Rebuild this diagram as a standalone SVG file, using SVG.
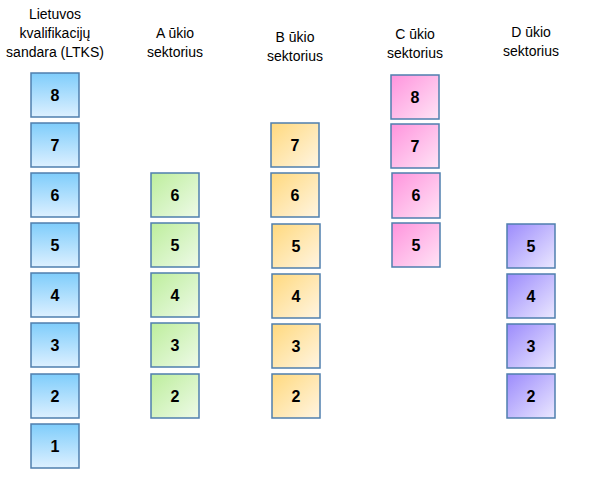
<svg xmlns="http://www.w3.org/2000/svg" width="602" height="478" viewBox="0 0 602 478">
<defs>
<linearGradient id="gBlue" x1="0" y1="0" x2="0" y2="1"><stop offset="0" stop-color="#7FCDFB"/><stop offset="1" stop-color="#DDF0FF"/></linearGradient>
<linearGradient id="gGreen" x1="0" y1="0" x2="1" y2="1"><stop offset="0" stop-color="#BDEE9C"/><stop offset="1" stop-color="#EEFAE8"/></linearGradient>
<linearGradient id="gOrange" x1="0" y1="0" x2="1" y2="1"><stop offset="0" stop-color="#FFD97E"/><stop offset="1" stop-color="#FFF5E2"/></linearGradient>
<linearGradient id="gPink" x1="0" y1="0" x2="1" y2="1"><stop offset="0" stop-color="#FF94DD"/><stop offset="1" stop-color="#FFE4F6"/></linearGradient>
<linearGradient id="gPurple" x1="0" y1="0" x2="1" y2="1"><stop offset="0" stop-color="#9C8BFC"/><stop offset="1" stop-color="#EBE8FF"/></linearGradient>
</defs>
<style>
.box rect{stroke:#4F7FAE;stroke-width:1.5}
.b rect{fill:url(#gBlue)}
.g rect{fill:url(#gGreen)}
.o rect{fill:url(#gOrange)}
.p rect{fill:url(#gPink)}
.v rect{fill:url(#gPurple)}
.box text{font-family:"Liberation Sans",Arial,sans-serif;font-weight:bold;font-size:16px;fill:#000;text-anchor:middle}
.hd{font-family:"Liberation Sans",Arial,sans-serif;font-size:14px;fill:#000;text-anchor:middle}
</style>
<g id="headers">
<text class="hd" x="55" y="19">Lietuvos</text>
<text class="hd" x="55" y="38">kvalifikacijų</text>
<text class="hd" x="55" y="57">sandara (LTKS)</text>
<text class="hd" x="175" y="38">A ūkio</text>
<text class="hd" x="175" y="57">sektorius</text>
<text class="hd" x="295" y="42">B ūkio</text>
<text class="hd" x="295" y="61">sektorius</text>
<text class="hd" x="415" y="39">C ūkio</text>
<text class="hd" x="415" y="58">sektorius</text>
<text class="hd" x="531" y="37">D ūkio</text>
<text class="hd" x="531" y="56">sektorius</text>
</g>
<g id="ltks-8" class="box b"><rect x="31" y="73" width="48" height="44"/><text x="55" y="101">8</text></g>
<g id="ltks-7" class="box b"><rect x="31" y="123" width="48" height="44"/><text x="55" y="151">7</text></g>
<g id="ltks-6" class="box b"><rect x="31" y="173" width="48" height="44"/><text x="55" y="201">6</text></g>
<g id="ltks-5" class="box b"><rect x="31" y="223" width="48" height="44"/><text x="55" y="251">5</text></g>
<g id="ltks-4" class="box b"><rect x="31" y="273" width="48" height="44"/><text x="55" y="301">4</text></g>
<g id="ltks-3" class="box b"><rect x="31" y="323" width="48" height="44"/><text x="55" y="351">3</text></g>
<g id="ltks-2" class="box b"><rect x="31" y="374" width="48" height="44"/><text x="55" y="402">2</text></g>
<g id="ltks-1" class="box b"><rect x="31" y="424" width="48" height="44"/><text x="55" y="452">1</text></g>

<g id="a-6" class="box g"><rect x="151" y="173" width="48" height="44"/><text x="175" y="201">6</text></g>
<g id="a-5" class="box g"><rect x="151" y="223" width="48" height="44"/><text x="175" y="251">5</text></g>
<g id="a-4" class="box g"><rect x="151" y="273" width="48" height="44"/><text x="175" y="301">4</text></g>
<g id="a-3" class="box g"><rect x="151" y="323" width="48" height="44"/><text x="175" y="351">3</text></g>
<g id="a-2" class="box g"><rect x="151" y="374" width="48" height="44"/><text x="175" y="402">2</text></g>

<g id="b-7" class="box o"><rect x="271" y="123" width="48" height="44"/><text x="295" y="151">7</text></g>
<g id="b-6" class="box o"><rect x="271" y="173" width="48" height="44"/><text x="295" y="201">6</text></g>
<g id="b-5" class="box o"><rect x="272" y="224" width="48" height="44"/><text x="296" y="252">5</text></g>
<g id="b-4" class="box o"><rect x="272" y="274" width="48" height="44"/><text x="296" y="302">4</text></g>
<g id="b-3" class="box o"><rect x="272" y="324" width="48" height="44"/><text x="296" y="352">3</text></g>
<g id="b-2" class="box o"><rect x="272" y="374" width="48" height="44"/><text x="296" y="402">2</text></g>

<g id="c-8" class="box p"><rect x="391" y="75" width="48" height="44"/><text x="415" y="103">8</text></g>
<g id="c-7" class="box p"><rect x="391" y="124" width="48" height="44"/><text x="415" y="152">7</text></g>
<g id="c-6" class="box p"><rect x="392" y="173" width="48" height="45"/><text x="416" y="201">6</text></g>
<g id="c-5" class="box p"><rect x="392" y="223" width="48" height="44"/><text x="416" y="251">5</text></g>

<g id="d-5" class="box v"><rect x="507" y="224" width="48" height="44"/><text x="531" y="252">5</text></g>
<g id="d-4" class="box v"><rect x="507" y="274" width="48" height="44"/><text x="531" y="302">4</text></g>
<g id="d-3" class="box v"><rect x="507" y="324" width="48" height="44"/><text x="531" y="352">3</text></g>
<g id="d-2" class="box v"><rect x="507" y="374" width="48" height="44"/><text x="531" y="402">2</text></g>
<g id="connectors"></g>
</svg>
